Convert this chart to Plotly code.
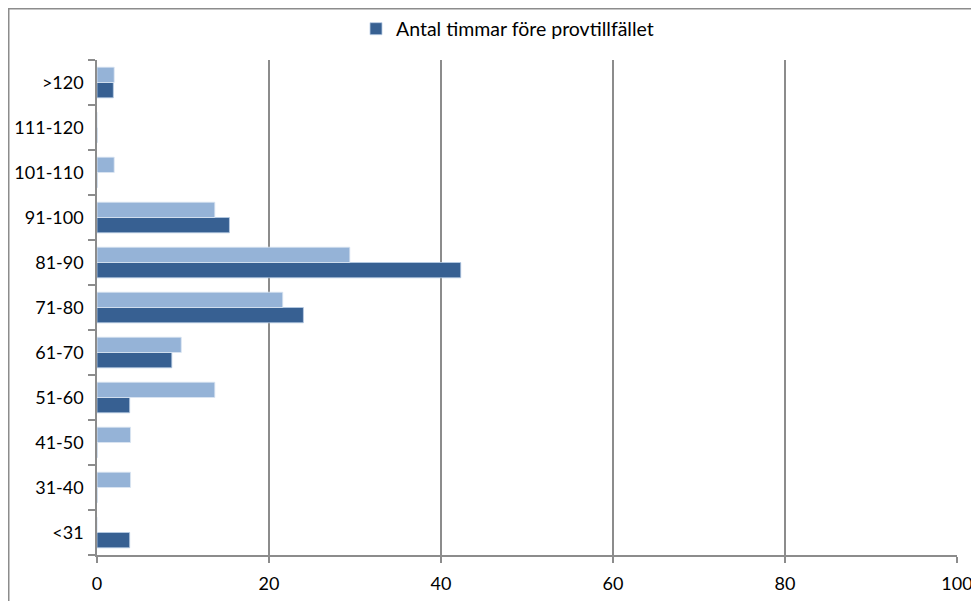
import plotly.graph_objects as go

categories = ["<31", "31-40", "41-50", "51-60", "61-70", "71-80", "81-90",
              "91-100", "101-110", "111-120", ">120"]
dark_values = [3.8, 0, 0, 3.8, 8.7, 24.0, 42.3, 15.4, 0, 0, 1.9]
light_values = [0, 3.9, 3.9, 13.7, 9.8, 21.6, 29.4, 13.7, 2.0, 0, 2.0]
series_name = "Antal timmar före provtillfället"
x_ticks = [0, 20, 40, 60, 80, 100]

# the page body has an 8px margin
OFF = 8
W, H = 971, 593
ml, mr, mt, mb = 89, 22, 52, 46
pw, ph = W - ml - mr, H - mt - mb

def px_x(p):  # page pixel -> paper
    return (p - OFF - ml) / pw

def px_y(p):
    return 1 - (p - OFF - mt) / ph

def cx(p):  # page pixel -> container fraction
    return (p - OFF) / W

def cy(p):
    return 1 - (p - OFF) / H

font = "Lato, 'Open Sans', sans-serif"

fig = go.Figure()
fig.add_trace(go.Bar(
    y=categories, x=dark_values, orientation="h", name=series_name,
    marker=dict(color="#376092", line=dict(color="#B9CDE5", width=0.8)),
    showlegend=True,
))
fig.add_trace(go.Bar(
    y=categories, x=light_values, orientation="h", name="",
    marker=dict(color="#95B3D7", line=dict(color="#DCE6F2", width=0.8)),
    showlegend=False,
))

fig.update_layout(
    width=W, height=H,
    margin=dict(l=ml, r=mr, t=mt, b=mb, autoexpand=False),
    paper_bgcolor="white", plot_bgcolor="white",
    barmode="group", bargap=0.32, bargroupgap=0,
    font=dict(family=font, size=18, color="#000000"),
    legend=dict(orientation="h", xref="container", yref="container",
                x=cx(356), xanchor="left", y=cy(29), yanchor="middle",
                font=dict(family=font, size=19.5, color="#000000"),
                itemwidth=30, bgcolor="rgba(0,0,0,0)"),
    xaxis=dict(range=[0, 100], tickvals=x_ticks, ticktext=[str(v) for v in x_ticks],
               showgrid=True, gridcolor="#8C8C8C", gridwidth=1.5,
               showline=True, linecolor="#8C8C8C", linewidth=1.5,
               ticks="outside", ticklen=6, tickcolor="#8C8C8C", tickwidth=1.5,
               ticklabelstandoff=6,
               zeroline=False, fixedrange=True),
    yaxis=dict(categoryorder="array", categoryarray=categories,
               range=[-0.5, len(categories) - 0.5],
               showgrid=False, showline=True, linecolor="#8C8C8C", linewidth=1.5,
               ticks="outside", tickson="boundaries", ticklen=7,
               tickcolor="#8C8C8C", tickwidth=1.5, ticklabelstandoff=8,
               zeroline=False, fixedrange=True),
    shapes=[dict(type="rect", xref="paper", yref="paper",
                 x0=px_x(8.75), x1=px_x(1000), y0=px_y(640), y1=px_y(8.75),
                 line=dict(color="#8C8C8C", width=1.5), fillcolor="rgba(0,0,0,0)",
                 layer="below")],
)

fig.write_html("out.html")
